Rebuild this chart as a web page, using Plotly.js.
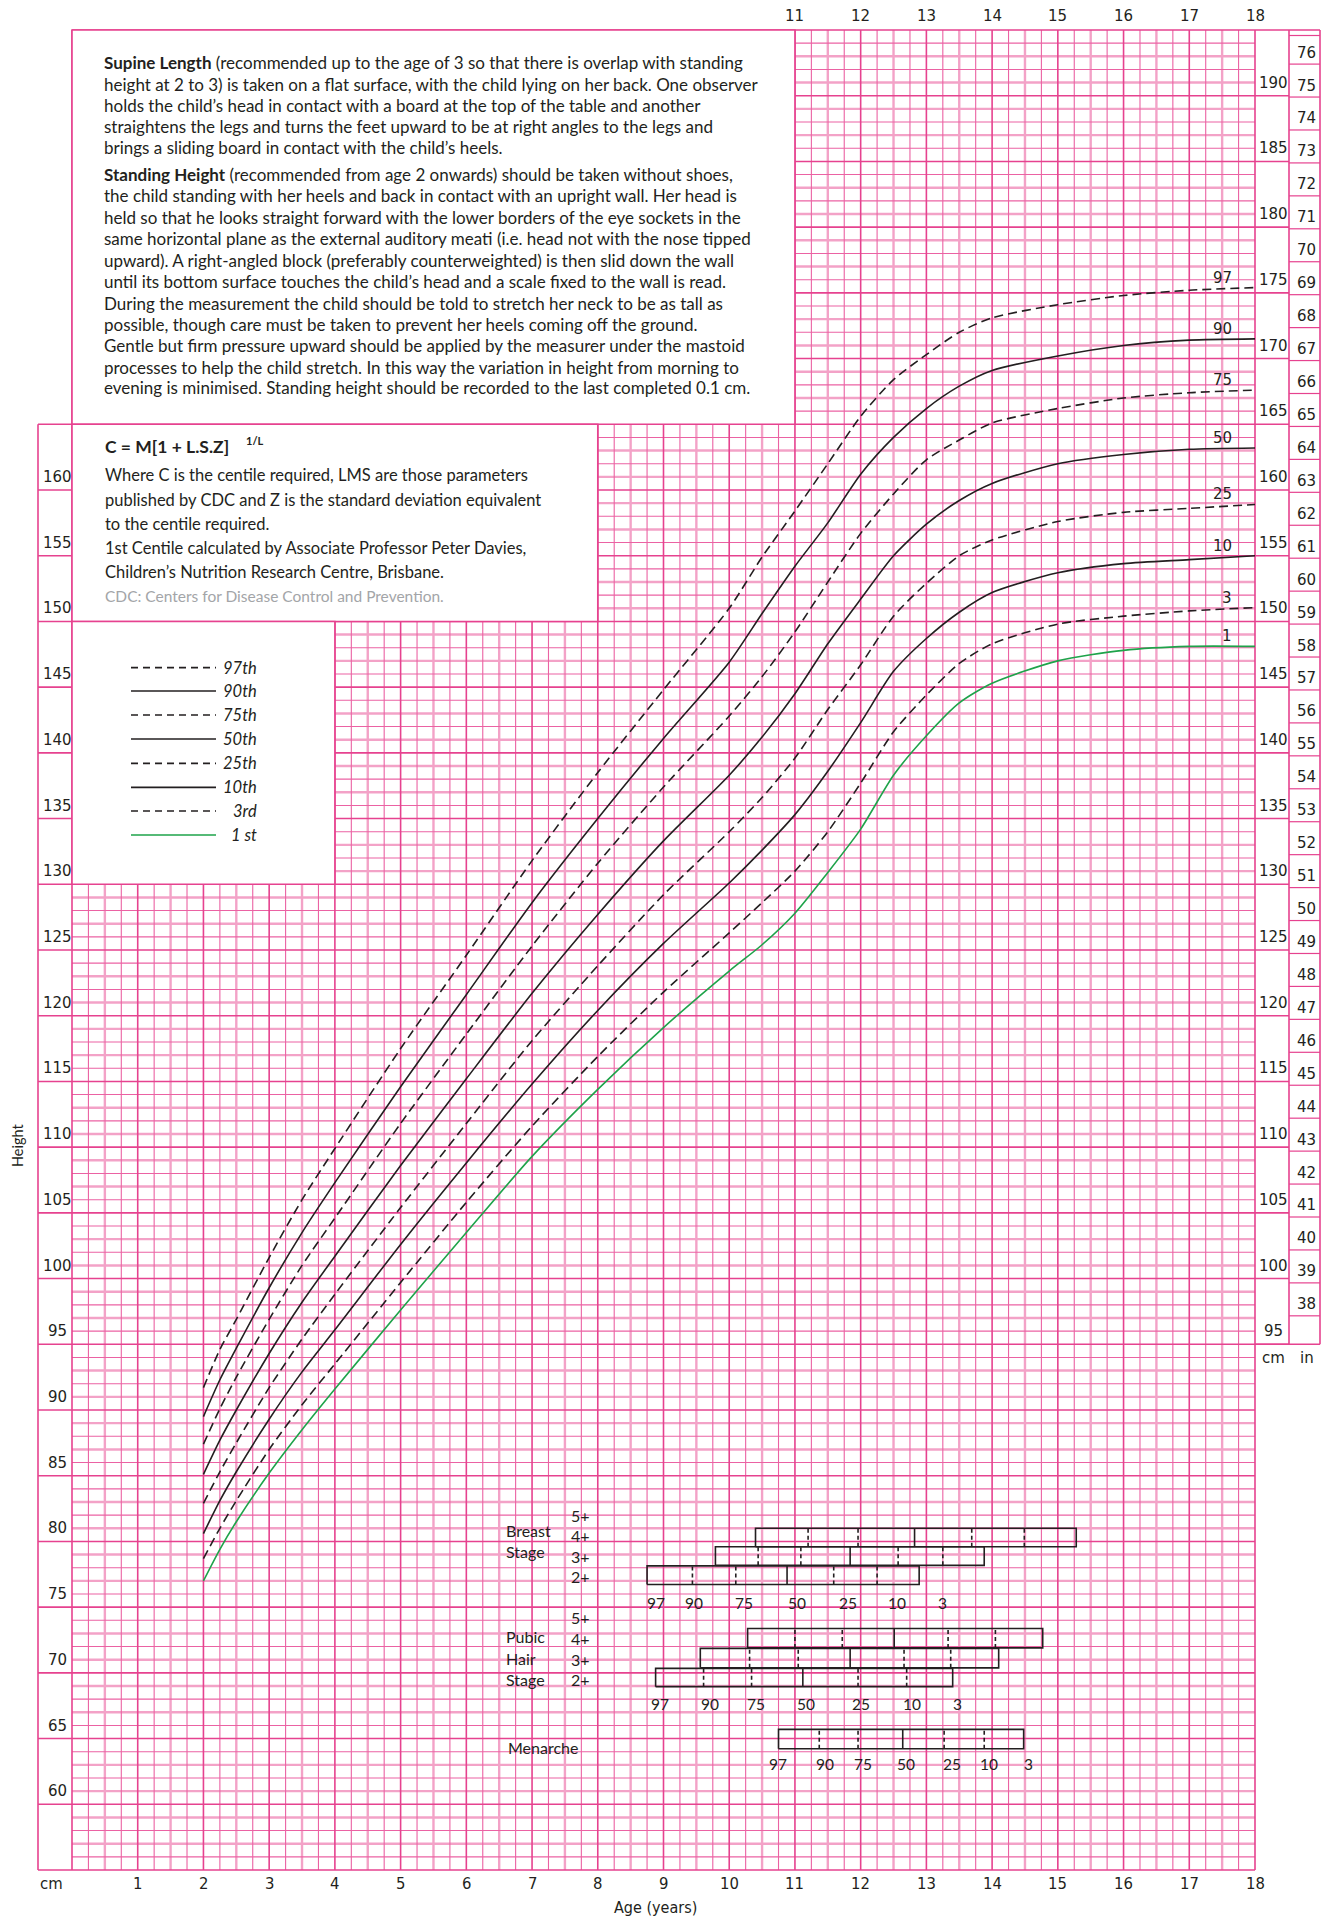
<!DOCTYPE html>
<html>
<head>
<meta charset="utf-8">
<script src="https://cdn.plot.ly/plotly-3.0.1.min.js"></script>
<style>
  html, body { margin: 0; padding: 0; background: #fff; }
  #chart { width: 1324px; height: 1917px; }
</style>
</head>
<body>
<div id="chart"></div>
<script>
// Girls height 2-18 years, centile curves (cm)
const ages = [2, 2.25, 2.5, 3, 3.5, 4, 5, 6, 7, 8, 9, 10, 10.5, 11, 11.5, 12, 12.5, 13, 13.5, 14, 15, 16, 17, 18];
const p97 = [91.7, 94.6, 96.9, 101.6, 106.0, 109.9, 117.5, 124.6, 131.8, 138.5, 144.8, 151.0, 154.9, 158.4, 162.0, 165.6, 168.4, 170.3, 172.0, 173.1, 174.1, 174.8, 175.2, 175.4];
const p90 = [89.5, 92.3, 94.7, 99.3, 103.5, 107.3, 114.6, 121.6, 128.6, 135.0, 141.1, 146.9, 150.6, 154.2, 157.5, 161.2, 164.0, 166.2, 167.9, 169.1, 170.2, 171.0, 171.4, 171.5];
const p75 = [87.4, 90.1, 92.5, 96.9, 101.0, 104.6, 111.8, 118.6, 125.3, 131.6, 137.4, 142.8, 145.8, 149.2, 153.0, 156.7, 159.7, 162.3, 163.8, 165.1, 166.2, 167.0, 167.4, 167.6];
const p50 = [85.1, 87.7, 90.0, 94.3, 98.2, 101.7, 108.6, 115.2, 121.7, 127.7, 133.3, 138.3, 141.2, 144.5, 148.3, 151.7, 155.0, 157.4, 159.2, 160.5, 162.0, 162.7, 163.1, 163.2];
const p25 = [82.9, 85.3, 87.5, 91.7, 95.4, 98.8, 105.4, 111.8, 118.1, 123.8, 129.2, 134.0, 136.6, 139.6, 143.3, 146.7, 150.4, 152.9, 155.0, 156.2, 157.6, 158.3, 158.6, 158.9];
const p10 = [80.6, 83.1, 85.3, 89.3, 92.9, 96.1, 102.6, 108.8, 114.8, 120.4, 125.5, 130.1, 132.6, 135.3, 138.6, 142.3, 146.2, 148.7, 150.7, 152.2, 153.7, 154.4, 154.7, 155.0];
const p3 = [78.7, 81.0, 83.1, 87.0, 90.4, 93.5, 99.7, 105.8, 111.6, 116.9, 121.8, 126.3, 128.6, 131.0, 134.0, 137.7, 141.6, 144.4, 146.8, 148.3, 149.8, 150.4, 150.8, 151.05];
const p1 = [77.0, 79.4, 81.5, 85.2, 88.5, 91.6, 97.6, 103.5, 109.3, 114.4, 119.1, 123.4, 125.4, 127.8, 130.9, 134.2, 138.3, 141.3, 143.8, 145.3, 147.0, 147.8, 148.1, 148.1];
const centileNames = ['97', '90', '75', '50', '25', '10', '3', '1'];
const legendNames = ['97th', '90th', '75th', '50th', '25th', '10th', '3rd', '1 st'];

// puberty: age at the 97,90,75,50,25,10,3 centiles for each stage
const stageCentiles = ['97', '90', '75', '50', '25', '10', '3'];
const breast4 = [10.40, 11.20, 11.96, 12.82, 13.69, 14.49, 15.28];
const breast3 = [9.79, 10.44, 11.09, 11.84, 12.57, 13.25, 13.88];
const breast2 = [8.75, 9.44, 10.10, 10.88, 11.59, 12.25, 12.89];
const pubic4 = [10.28, 11.00, 11.72, 12.51, 13.33, 14.05, 14.77];
const pubic3 = [9.56, 10.31, 11.05, 11.84, 12.66, 13.37, 14.10];
const pubic2 = [8.88, 9.61, 10.34, 11.12, 11.96, 12.70, 13.40];
const menarche = [10.75, 11.37, 11.96, 12.64, 13.27, 13.88, 14.48];
const breastLabelAges = [8.88, 9.47, 10.22, 11.03, 11.81, 12.55, 13.25];
const pubicLabelAges = [8.94, 9.70, 10.41, 11.17, 12.01, 12.78, 13.47];
const menarcheLabelAges = [10.74, 11.45, 12.03, 12.69, 13.39, 13.95, 14.55];

// tick labels
const ageTicks = [1, 2, 3, 4, 5, 6, 7, 8, 9, 10, 11, 12, 13, 14, 15, 16, 17, 18];
const topAgeTicks = [11, 12, 13, 14, 15, 16, 17, 18];
const cmLeft = [160, 155, 150, 145, 140, 135, 130, 125, 120, 115, 110, 105, 100, 95, 90, 85, 80, 75, 70, 65, 60];
const cmRight = [190, 185, 180, 175, 170, 165, 160, 155, 150, 145, 140, 135, 130, 125, 120, 115, 110, 105, 100, 95];
const inchTicks = [76, 75, 74, 73, 72, 71, 70, 69, 68, 67, 66, 65, 64, 63, 62, 61, 60, 59, 58, 57, 56, 55, 54, 53, 52, 51, 50, 49, 48, 47, 46, 45, 44, 43, 42, 41, 40, 39, 38];

// page geometry (px)
const L = 72, R = 1255, T = 30, B = 1870;
const ax = a => L + a * (R - L) / 18;
const cy = c => B - (c - 55) * (B - T) / 140;
const PX = p => (p - L) / (R - L);
const PY = p => (B - p) / (B - T);

const INK = '#231f20';
const PINK = '#e6428f', PINK_THIN = '#eb62a3', PINK_LIGHT = '#f3a2c7';
const GREEN = '#1ea34a';
const SANS = 'Lato, "Open Sans", sans-serif';
const NUM = '"DejaVu Sans", Verdana, sans-serif';
const COND = '"Liberation Sans Narrow", "DejaVu Sans Condensed", sans-serif';

function seg(x0, y0, x1, y1, color, width, dash) {
  return { type: 'line', xref: 'paper', yref: 'paper', layer: 'below',
    x0: PX(x0), y0: PY(y0), x1: PX(x1), y1: PY(y1),
    line: { color: color, width: width, dash: dash || 'solid' } };
}
function txt(x, y, s, size, family, extra) {
  return Object.assign({ xref: 'paper', yref: 'paper', x: PX(x), y: PY(y), text: s,
    showarrow: false, xanchor: 'center', yanchor: 'middle',
    font: { family: family || SANS, size: size || 15, color: INK } }, extra || {});
}

// ---- grid ----
const light = [], thin = [], major = [];
for (let q = 0; q <= 72; q++) {
  const x = ax(q / 4);
  if (q % 4 === 0) major.push(seg(x, T, x, B, PINK, 1.6));
  else if (q % 2 === 0) light.push(seg(x, T, x, B, PINK_LIGHT, 2.4));
  else thin.push(seg(x, T, x, B, PINK_THIN, 1.1));
}
for (let c = 55; c <= 195; c++) {
  const y = cy(c);
  if (c % 5 === 0) major.push(seg(L, y, R, y, PINK, 1.6));
  else if (c % 2 === 1) light.push(seg(L, y, R, y, PINK_LIGHT, 2.4));
  else thin.push(seg(L, y, R, y, PINK_THIN, 1.1));
}
let shapes = light.concat(thin, major);

// white text boxes over the grid
function box(a0, a1, c0, c1) {
  return { type: 'rect', xref: 'paper', yref: 'paper', layer: 'below',
    x0: PX(ax(a0)), x1: PX(ax(a1)), y0: PY(cy(c0)), y1: PY(cy(c1)),
    fillcolor: '#ffffff', line: { color: PINK, width: 1.6 } };
}
shapes.push(box(0, 11, 165, 195), box(0, 8, 150, 165), box(0, 4, 130, 150));

// left cm column
shapes.push(seg(38, cy(165), 38, B, PINK, 1.6));
for (let c = 165; c >= 55; c -= 5) shapes.push(seg(38, cy(c), L, cy(c), PINK, 1.6));
// right cm / in columns
const inLabelY = n => 52.6 + (76 - n) * 32.94;
shapes.push(seg(1289, T, 1289, cy(95), PINK, 1.6), seg(1320, T, 1320, cy(95), PINK, 1.6));
shapes.push(seg(R, T, 1320, T, PINK, 1.6), seg(R, cy(95), 1320, cy(95), PINK, 1.6));
for (let c = 190; c >= 95; c -= 5) shapes.push(seg(R, cy(c), 1289, cy(c), PINK, 1.6));
shapes.push(seg(1289, 35.5, 1320, 35.5, PINK, 1.2));
inchTicks.forEach(n => shapes.push(seg(1289, inLabelY(n) + 11.5, 1320, inLabelY(n) + 11.5, PINK, 1.2)));

// legend samples
const legendY = [667.7, 691, 715, 739, 763.3, 787.3, 811, 835];
legendNames.forEach((n, i) => {
  const dashed = i % 2 === 0 && i < 7;
  shapes.push(seg(131, legendY[i], 216, legendY[i], i === 7 ? GREEN : INK, 1.7, dashed ? '7px,5px' : 'solid'));
});

// ---- traces ----
const series = [p97, p90, p75, p50, p25, p10, p3, p1];
const traces = series.map((ys, i) => ({
  x: ages, y: ys, type: 'scatter', mode: 'lines', name: centileNames[i],
  hoverinfo: 'skip',
  line: { color: i === 7 ? GREEN : INK, width: 1.6, shape: 'spline', smoothing: 0.7,
    dash: (i % 2 === 0 && i < 7) ? '9px,5px' : 'solid' }
}));

function stageBar(vals, cLow, cHigh) {
  const a0 = vals[0], a6 = vals[6];
  traces.push({ x: [a0, a6, a6, a0, a0, null, vals[3], vals[3]],
    y: [cLow, cLow, cHigh, cHigh, cLow, null, cLow, cHigh],
    type: 'scatter', mode: 'lines', hoverinfo: 'skip', line: { color: INK, width: 1.6 } });
  const xs = [], ys = [];
  [1, 2, 4, 5].forEach(k => { xs.push(vals[k], vals[k], null); ys.push(cLow, cHigh, null); });
  traces.push({ x: xs, y: ys, type: 'scatter', mode: 'lines', hoverinfo: 'skip',
    line: { color: INK, width: 1.6, dash: '4px,3px' } });
}
stageBar(breast4, 79.6, 81.0);
stageBar(breast3, 78.18, 79.6);
stageBar(breast2, 76.72, 78.14);
stageBar(pubic4, 71.9, 73.38);
stageBar(pubic3, 70.38, 71.86);
stageBar(pubic2, 68.95, 70.34);
stageBar(menarche, 64.23, 65.7);

// ---- text ----
const ann = [];
const para = [
  '<b>Supine Length</b> (recommended up to the age of 3 so that there is overlap with standing',
  'height at 2 to 3) is taken on a flat surface, with the child lying on her back. One observer',
  'holds the child’s head in contact with a board at the top of the table and another',
  'straightens the legs and turns the feet upward to be at right angles to the legs and',
  'brings a sliding board in contact with the child’s heels.',
  '<b>Standing Height</b> (recommended from age 2 onwards) should be taken without shoes,',
  'the child standing with her heels and back in contact with an upright wall. Her head is',
  'held so that he looks straight forward with the lower borders of the eye sockets in the',
  'same horizontal plane as the external auditory meati (i.e. head not with the nose tipped',
  'upward). A right-angled block (preferably counterweighted) is then slid down the wall',
  'until its bottom surface touches the child’s head and a scale fixed to the wall is read.',
  'During the measurement the child should be told to stretch her neck to be as tall as',
  'possible, though care must be taken to prevent her heels coming off the ground.',
  'Gentle but firm pressure upward should be applied by the measurer under the mastoid',
  'processes to help the child stretch. In this way the variation in height from morning to',
  'evening is minimised. Standing height should be recorded to the last completed 0.1 cm.'
];
const paraY = [62.7, 84, 105, 126.7, 147.7, 174.3, 195.7, 217, 238.7, 260, 281.7, 303, 324, 345.3, 367, 387.7];
para.forEach((s, i) => ann.push(txt(102, paraY[i], s, 17, SANS, { xanchor: 'left' })));

ann.push(txt(103, 446, '<b>C = M[1 + L.S.Z]</b>', 17.5, SANS, { xanchor: 'left' }));
ann.push(txt(244, 441, '<b>1/L</b>', 11, SANS, { xanchor: 'left' }));
const formula = [
  'Where C is the centile required, LMS are those parameters',
  'published by CDC and Z is the standard deviation equivalent',
  'to the centile required.',
  '1st Centile calculated by Associate Professor Peter Davies,',
  'Children’s Nutrition Research Centre, Brisbane.'
];
const formulaY = [475, 500, 524, 548, 572];
formula.forEach((s, i) => ann.push(txt(103, formulaY[i], s, 16.5, SANS, { xanchor: 'left' })));
ann.push(txt(103, 596, 'CDC: Centers for Disease Control and Prevention.', 15.5, SANS,
  { xanchor: 'left', font: { family: SANS, size: 15.5, color: '#a3a5a8' } }));

legendNames.forEach((n, i) => ann.push(txt(259, legendY[i], '<i>' + n + '</i>', 16.5, SANS, { xanchor: 'right' })));

// axis labels
cmLeft.forEach(c => ann.push(txt(57, cy(c) - 13, String(c), 15, NUM)));
cmRight.forEach(c => ann.push(txt(1274, cy(c) - 13, String(c), 15, NUM)));
inchTicks.forEach(n => ann.push(txt(1306, inLabelY(n), String(n), 15, NUM)));
ann.push(txt(1274, 1358, 'cm', 15, NUM), txt(1307, 1358, 'in', 15, NUM));
topAgeTicks.forEach(a => ann.push(txt(ax(a), 16, String(a), 15, NUM)));
ageTicks.forEach(a => ann.push(txt(ax(a), 1883, String(a), 16.5, COND)));
ann.push(txt(51, 1883, 'cm', 16.5, COND));
ann.push(txt(655, 1907, 'Age (years)', 16, COND));
ann.push(txt(17, 1145, 'Height', 14.5, SANS, { textangle: -90 }));

// curve end labels
series.forEach((ys, i) => ann.push(txt(1234, cy(ys[ys.length - 1]) - 10, centileNames[i], 15, NUM, { xanchor: 'right' })));

// puberty labels
ann.push(txt(504, 1530, 'Breast', 16, SANS, { xanchor: 'left' }), txt(504, 1551.7, 'Stage', 16, SANS, { xanchor: 'left' }));
[['5+', 1515], ['4+', 1535], ['3+', 1556], ['2+', 1576]].forEach(p => ann.push(txt(580, p[1], p[0], 16, SANS)));
ann.push(txt(504, 1636.7, 'Pubic', 16, SANS, { xanchor: 'left' }), txt(504, 1658.3, 'Hair', 16, SANS, { xanchor: 'left' }),
  txt(504, 1679.3, 'Stage', 16, SANS, { xanchor: 'left' }));
[['5+', 1617], ['4+', 1638], ['3+', 1659], ['2+', 1679]].forEach(p => ann.push(txt(580, p[1], p[0], 16, SANS)));
ann.push(txt(506, 1747, 'Menarche', 16, SANS, { xanchor: 'left' }));
stageCentiles.forEach((c, i) => {
  ann.push(txt(ax(breastLabelAges[i]), 1603, c, 15.5, SANS));
  ann.push(txt(ax(pubicLabelAges[i]), 1704, c, 15.5, SANS));
  ann.push(txt(ax(menarcheLabelAges[i]), 1764, c, 15.5, SANS));
});

const layout = {
  width: 1324, height: 1917,
  margin: { l: L, r: 1324 - R, t: T, b: 1917 - B, pad: 0 },
  paper_bgcolor: '#ffffff', plot_bgcolor: 'rgba(0,0,0,0)',
  showlegend: false,
  xaxis: { range: [0, 18], showgrid: false, zeroline: false, showticklabels: false, showline: false, fixedrange: true },
  yaxis: { range: [55, 195], showgrid: false, zeroline: false, showticklabels: false, showline: false, fixedrange: true },
  shapes: shapes,
  annotations: ann
};

Plotly.newPlot('chart', traces, layout, { staticPlot: true, displayModeBar: false });
</script>
</body>
</html>
